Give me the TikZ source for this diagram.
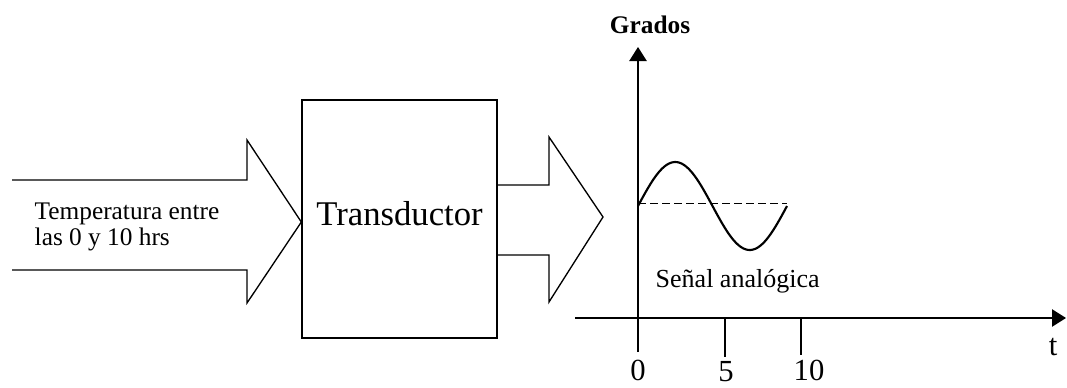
\documentclass[tikz,border=0pt]{standalone}
\usepackage{fontspec}
\setmainfont{Liberation Serif}
\usetikzlibrary{arrows.meta, positioning, calc}

\begin{document}
\begin{tikzpicture}[
  x=0.75pt, y=-0.75pt,
  blockarr/.style={line width=1pt, line join=miter},
  procbox/.style={rectangle, draw, line width=1pt, minimum width=146.25pt,
                  minimum height=178.5pt, font=\fontsize{26}{30}\selectfont},
  axis/.style={line width=1pt, -{Triangle[length=10.5pt, width=13pt]}},
  tick/.style={line width=1pt},
  lbl/.style={font=\fontsize{19}{22}\selectfont, align=left},
  num/.style={font=\fontsize{23}{26}\selectfont, inner sep=0pt},
]
\useasboundingbox (0,0) rectangle (1067,387);
% nodes
\node[procbox] (trans) at (399.5,219) {\raisebox{9pt}{Transductor}};
\node[lbl, anchor=west] (temp) at (30,227) {Temperatura entre\\[-3pt]las 0 y 10 hrs};
\coordinate (origin) at (638,318);
\node[font=\bfseries\fontsize{19}{22}\selectfont] (grados) at (650,25) {Grados};
\node[lbl, anchor=west, font=\fontsize{19.5}{22}\selectfont] (senal) at (651,281) {Señal analógica};
\node[num] (n0)  at (638,370) {0};
\node[num] (n5)  at (726,372) {5};
\node[num] (n10) at (809,370) {10};
\node[num] (tlab) at (1053,347) {t};
% block arrows
\draw[blockarr] (12,180) -- (247,180) -- (247,140) -- (trans.west |- 0,222)
  -- (247,303) -- (247,270) -- (12,270);
\draw[blockarr] (trans.east |- 0,185) -- (549,185) -- (549,137) -- (603,217)
  -- (549,302) -- (549,255) -- (trans.east |- 0,255);
% axes
\draw[axis] (origin |- 0,352) -- (origin |- 0,47);
\draw[axis] (575,318) -- (1066,318);
\draw[tick] (725,318) -- (725,357);
\draw[tick] (801,318) -- (801,355);
% signal
\draw[dashed, line width=0.5pt, dash pattern=on 6pt off 3pt] (origin |- 0,203) -- (787,203);
\draw[line width=1.6pt] plot[domain=0:149, samples=80, smooth]
  ({638+\x},{206-44*sin(2.416*\x)});
\end{tikzpicture}
\end{document}
